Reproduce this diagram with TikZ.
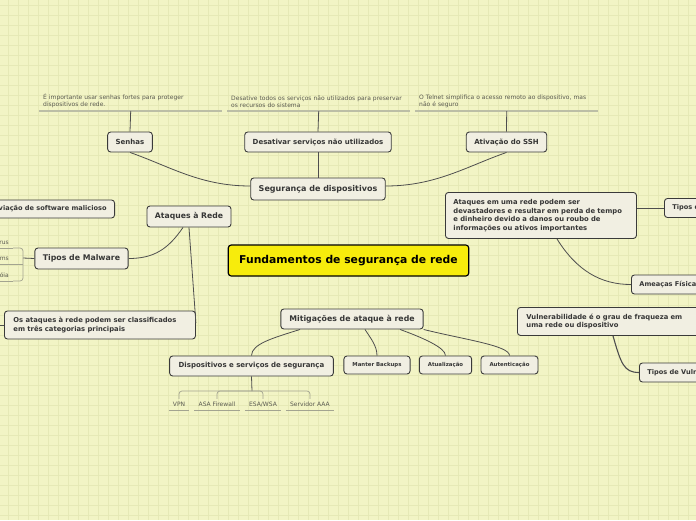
\documentclass[tikz,border=0pt]{standalone}
\usepackage{fontspec}
\setmainfont{DejaVu Sans}
\usepackage{tikz}
\usepackage{xcolor}

\definecolor{paper}{HTML}{F2F4C5}
\definecolor{gridline}{HTML}{E6E9B6}
\definecolor{boxfill}{HTML}{F1EFE2}
\definecolor{boxline}{HTML}{3A3A3A}
\definecolor{boxtext}{HTML}{363636}
\definecolor{rootfill}{HTML}{F7EC0C}
\definecolor{notetext}{HTML}{5A5A50}
\definecolor{noteline}{HTML}{BCBEA6}
\definecolor{leafline}{HTML}{A3A490}

\begin{document}
\begin{tikzpicture}[
    x=1pt, y=-1pt,
    every node/.style={align=center},
    topic/.style={draw=boxline, fill=boxfill, rounded corners=3pt,
                  line width=0.9pt, text=boxtext, inner xsep=8pt,
                  inner ysep=0pt, minimum height=20pt,
                  font=\bfseries\fontsize{7}{8.5}\selectfont},
    root/.style={topic, fill=rootfill, draw=black, line width=1.2pt,
                 text=black, inner xsep=11pt, minimum height=31pt,
                 font=\bfseries\fontsize{10.8}{13}\selectfont},
    para/.style={topic, align=left, inner ysep=4pt,
                 font=\bfseries\fontsize{6.8}{8.6}\selectfont},
    small/.style={topic, inner xsep=8.5pt, minimum height=18pt,
                  font=\bfseries\fontsize{5.4}{6.5}\selectfont},
    edgebox/.style={topic, anchor=west, minimum height=19pt,
                    font=\bfseries\fontsize{6.6}{8}\selectfont},
    note/.style={text=notetext, align=left, text width=175pt,
                 inner xsep=4pt, inner ysep=3pt, anchor=south west,
                 font=\fontsize{6}{7.2}\selectfont},
    leaf/.style={text=notetext, inner xsep=4pt, inner ysep=2.5pt,
                 text height=4.5pt, text depth=1.3pt,
                 font=\fontsize{6}{7}\selectfont},
    link/.style={draw=boxline!90, line width=0.8pt},
    noteunder/.style={draw=noteline, line width=1.6pt},
    leafunder/.style={draw=leafline, line width=0.7pt},
    bracket/.style={draw=leafline, line width=0.7pt, rounded corners=3pt},
]
\useasboundingbox (0,0) rectangle (696,520);
\clip (0,0) rectangle (696,520);
\fill[paper] (0,0) rectangle (696,520);
\foreach \x in {8,18,...,698} \draw[gridline, line width=0.5pt] (\x,0) -- (\x,520);
\foreach \y in {5,15,...,515} \draw[gridline, line width=0.5pt] (0,\y) -- (696,\y);

\node[root] (root) at (348.5,260.5) {Fundamentos de segurança de rede};

\node[topic, minimum height=22pt, font=\bfseries\fontsize{8}{9.6}\selectfont]
  (seg) at (318,189) {Segurança de dispositivos};
\node[topic] (senhas) at (130,142) {Senhas};
\node[topic] (desat) at (318,142) {Desativar serviços não utilizados};
\node[topic] (ssh) at (506.5,142) {Ativação do SSH};
\node[note] (nsenhas) at (39,111) {É importante usar senhas fortes para proteger\\dispositivos de rede.};
\node[note] (ndesat) at (227,111) {Desative todos os serviços não utilizados para preservar\\os recursos do sistema};
\node[note] (nssh) at (415,111) {O Telnet simplifica o acesso remoto ao dispositivo, mas\\não é seguro};

\node[topic, minimum height=21pt, font=\bfseries\fontsize{7.7}{9}\selectfont]
  (ataques) at (189,216.5) {Ataques à Rede};
\node[topic, anchor=east, minimum height=18pt, font=\bfseries\fontsize{6.6}{8}\selectfont]
  (abrev) at (115,209) {abreviação de software malicioso};
\node[topic, minimum height=21pt, font=\bfseries\fontsize{7.8}{9}\selectfont]
  (tmalw) at (81.5,258.5) {Tipos de Malware};
\node[leaf, anchor=south east] (virus) at (13,248) {Vírus};
\node[leaf, anchor=south east] (worms) at (13,264) {Worms};
\node[leaf, anchor=south east] (troia) at (13,281) {Cavalo de Tróia};
\coordinate (mbr) at (23,258);
\node[para, anchor=west, text width=173pt, inner xsep=9pt, minimum height=28pt]
  (classif) at (4,325) {Os ataques à rede podem ser classificados\\em três categorias principais};
\coordinate (offl) at (-10,325);

\node[para, anchor=north west, text width=175pt, minimum height=46pt]
  (rbox) at (445,192) {Ataques em uma rede podem ser\\devastadores e resultar em perda de tempo\\e dinheiro devido a danos ou roubo de\\informações ou ativos importantes};
\node[edgebox] (tipos) at (664,208) {Tipos de Ameaças};
\node[edgebox] (fisicas) at (631,284.5) {Ameaças Físicas};
\node[para, anchor=north west, text width=190pt, inner xsep=9pt, minimum height=28pt]
  (vulner) at (517,307) {Vulnerabilidade é o grau de fraqueza em\\uma rede ou dispositivo};
\node[edgebox] (tvuln) at (639,372.5) {Tipos de Vulnerabilidades};

\node[topic, inner xsep=8.5pt, font=\bfseries\fontsize{7.8}{9}\selectfont]
  (mitig) at (352,319) {Mitigações de ataque à rede};
\node[topic, inner xsep=9pt] (disp) at (251.5,366) {Dispositivos e serviços de segurança};
\node[small] (backup) at (377,365) {Manter Backups};
\node[small] (atual) at (445.5,365) {Atualização};
\node[small] (auten) at (509.5,365) {Autenticação};
\node[leaf, anchor=south] (vpn) at (179,410) {VPN};
\node[leaf, anchor=south] (asa) at (217,410) {ASA Firewall};
\node[leaf, anchor=south] (esa) at (263,410) {ESA/WSA};
\node[leaf, anchor=south] (aaa) at (310,410) {Servidor AAA};
\coordinate (dbr) at (252,391);

\foreach \n in {nsenhas,ndesat,nssh}
  \draw[noteunder] (\n.south west) -- (\n.south east);
\foreach \n in {vpn,asa,esa,aaa,virus,worms,troia}
  \draw[leafunder] (\n.south west) -- (\n.south east);

\draw[link] (nsenhas.south) -- (senhas.north);
\draw[link] (ndesat.south) -- (desat.north);
\draw[link] (nssh.south) -- (ssh.north);
\draw[link] (senhas.south) .. controls +(40,14) and +(-50,0) .. ([yshift=3pt]seg.west);
\draw[link] (desat.south) -- (seg.north);
\draw[link] (ssh.south) .. controls +(-40,14) and +(50,0) .. ([yshift=3pt]seg.east);

\draw[link] ([xshift=-6pt]ataques.south) .. controls +(-15,22) and +(25,0) .. (tmalw.east);
\draw[link] (ataques.south) -- ([yshift=2pt]classif.east);
\draw[link] (tmalw.west) -- (mbr);
\draw[bracket] (virus.south east) -| (mbr) |- (troia.south east);
\draw[leafunder] (worms.south east) -- (worms.south east -| mbr);
\draw[link] (classif.west) -- (offl);

\draw[link] (tipos.west) -- (tipos.west -| rbox.east);
\draw[link] ([xshift=16pt]rbox.south) .. controls +(20,32) and +(-30,0) .. (fisicas.west);
\draw[link, line width=1.1pt] ([xshift=96pt]vulner.south west) .. controls +(8,28) and +(-15,0) .. (tvuln.west);

\draw[link] ([xshift=-52pt]mitig.south) .. controls +(-25,8) and +(0,-12) .. (disp.north);
\draw[link] ([xshift=13pt]mitig.south) .. controls +(5,8) and +(0,-10) .. (backup.north);
\draw[link] ([xshift=48pt]mitig.south) .. controls +(22,8) and +(0,-8) .. (atual.north);
\draw[link] (mitig.south east) .. controls +(40,10) and +(0,-10) .. (auten.north);
\draw[link] (disp.south) -- (dbr);
\draw[bracket] (vpn.north) |- (dbr) -| (aaa.north);
\draw[bracket] (asa.north) |- (dbr);
\draw[bracket] (esa.north) |- (dbr);
\end{tikzpicture}
\end{document}
